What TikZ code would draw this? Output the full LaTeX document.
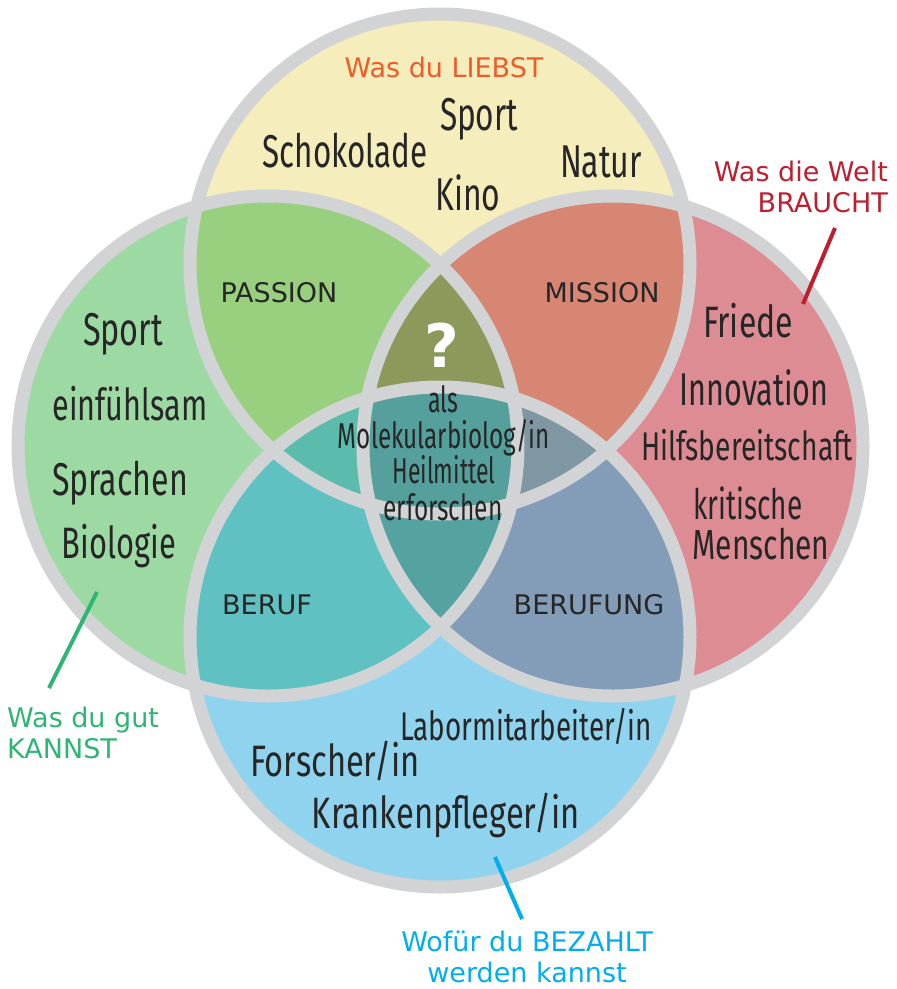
\documentclass[tikz,border=0pt]{standalone}
\usepackage{fontspec}
\setmainfont{DejaVu Sans}
\newfontfamily\hwfont{Fira Sans}
\newsavebox\hwbox
\newcommand\hww[3]{\sbox\hwbox{\fontsize{#1}{#1}\hwfont #3}\resizebox{#2pt}{\ht\hwbox}{\usebox\hwbox}}
\definecolor{ring}{HTML}{D1D3D4}
\definecolor{cT}{HTML}{F5EDBC}
\definecolor{cL}{HTML}{9DD9A3}
\definecolor{cR}{HTML}{DE8C94}
\definecolor{cB}{HTML}{8FD3EE}
\definecolor{cTL}{HTML}{98D07F}
\definecolor{cTR}{HTML}{D88674}
\definecolor{cLB}{HTML}{5FC1C1}
\definecolor{cRB}{HTML}{839DB8}
\definecolor{cTLR}{HTML}{8B9A5B}
\definecolor{cTLB}{HTML}{5BBCAE}
\definecolor{cTRB}{HTML}{7F97A3}
\definecolor{cLRB}{HTML}{55A3A0}
\definecolor{cAll}{HTML}{55A09D}
\definecolor{tOrange}{HTML}{F15A29}
\definecolor{tRed}{HTML}{BE1E2D}
\definecolor{tGreen}{HTML}{2DB673}
\definecolor{tBlue}{HTML}{00AEEF}
\tikzset{
  hw/.style={inner sep=0pt, anchor=base, text=black!85},
  lbl/.style={inner sep=0pt, anchor=base, font=\fontsize{27}{27}\selectfont, text=black!85},
  captext/.style={inner sep=0pt, font=\fontsize{27}{31}\selectfont},
  pointer/.style={line width=4pt},
  ringline/.style={draw=ring, line width=13pt}
}
\begin{document}
\begin{tikzpicture}[x=1pt,y=-1pt]
\useasboundingbox (0,0) rectangle (897,989);
\def\rr{250}
\coordinate (cTc) at (440,264);
\coordinate (cLc) at (268,446);
\coordinate (cRc) at (613,446);
\coordinate (cBc) at (440,637);
% base fills
\fill[cT] (cTc) circle (\rr);
\fill[cL] (cLc) circle (\rr);
\fill[cR] (cRc) circle (\rr);
\fill[cB] (cBc) circle (\rr);
% pairs
\begin{scope}\clip (cTc) circle (\rr); \fill[cTL] (cLc) circle (\rr); \end{scope}
\begin{scope}\clip (cTc) circle (\rr); \fill[cTR] (cRc) circle (\rr); \end{scope}
\begin{scope}\clip (cLc) circle (\rr); \fill[cLB] (cBc) circle (\rr); \end{scope}
\begin{scope}\clip (cRc) circle (\rr); \fill[cRB] (cBc) circle (\rr); \end{scope}
% triples
\begin{scope}\clip (cTc) circle (\rr); \clip (cLc) circle (\rr); \fill[cTLR] (cRc) circle (\rr); \end{scope}
\begin{scope}\clip (cTc) circle (\rr); \clip (cLc) circle (\rr); \fill[cTLB] (cBc) circle (\rr); \end{scope}
\begin{scope}\clip (cTc) circle (\rr); \clip (cRc) circle (\rr); \fill[cTRB] (cBc) circle (\rr); \end{scope}
\begin{scope}\clip (cLc) circle (\rr); \clip (cRc) circle (\rr); \fill[cLRB] (cBc) circle (\rr); \end{scope}
% all four
\begin{scope}\clip (cTc) circle (\rr); \clip (cLc) circle (\rr); \clip (cRc) circle (\rr); \fill[cAll] (cBc) circle (\rr); \end{scope}
% rings
\draw[ringline] (cTc) circle (\rr);
\draw[ringline] (cLc) circle (\rr);
\draw[ringline] (cRc) circle (\rr);
\draw[ringline] (cBc) circle (\rr);

% top circle words
\node[hw] (tSport) at (479,130) {\hww{46}{78}{Sport}};
\node[hw] (tSchoko) at (345,167) {\hww{46}{165}{Schokolade}};
\node[hw] (tNatur) at (601,177) {\hww{46}{82}{Natur}};
\node[hw] (tKino) at (468,210) {\hww{46}{65}{Kino}};
% left circle words
\node[hw] (lSport) at (123,345) {\hww{46}{80}{Sport}};
\node[hw] (lEin) at (130,420) {\hww{44}{155}{einfühlsam}};
\node[hw] (lSpr) at (120,495) {\hww{46}{136}{Sprachen}};
\node[hw] (lBio) at (119,558) {\hww{44}{114}{Biologie}};
% right circle words
\node[hw] (rFriede) at (748,337) {\hww{44}{90}{Friede}};
\node[hw] (rInno) at (754,405) {\hww{46}{149}{Innovation}};
\node[hw] (rHilf) at (747,460) {\hww{40}{212}{Hilfsbereitschaft}};
\node[hw] (rKrit) at (748,519) {\hww{42}{109}{kritische}};
\node[hw] (rMen) at (761,559) {\hww{42}{137}{Menschen}};
% bottom circle words
\node[hw] (bLabor) at (526,740) {\hww{40}{252}{Labormitarbeiter/in}};
\node[hw] (bForsch) at (335,776) {\hww{44}{170}{Forscher/in}};
\node[hw] (bKrank) at (446,828) {\hww{44}{268}{Krankenpfleger/in}};
% centre
\node[inner sep=0pt, anchor=base, text=white, font=\fontsize{60}{60}\bfseries\selectfont] (qm) at (442,367) {?};
\node[hw] (cAls) at (443,412) {\hww{36}{30}{als}};
\node[hw] (cMol) at (444,448) {\hww{36}{212}{Molekularbiolog/in}};
\node[hw] (cHeil) at (444,483) {\hww{36}{103}{Heilmittel}};
\node[hw] (cErf) at (443,520) {\hww{36}{119}{erforschen}};
% region labels
\node[lbl] (passion) at (279,302) {PASSION};
\node[lbl] (mission) at (602,302) {MISSION};
\node[lbl] (beruf) at (267,614) {BERUF};
\node[lbl] (berufung) at (589,614) {BERUFUNG};
% circle captions (base = baseline of last line)
\node[lbl, text=tOrange] (liebst) at (444,77) {Was du LIEBST};
\node[captext, text=tRed, anchor=base east, align=right] (welt) at (888,212) {Was die Welt\\BRAUCHT};
\node[captext, text=tGreen, anchor=base west, align=left] (kannst) at (7,758) {Was du gut\\KANNST};
\node[captext, text=tBlue, anchor=base, align=center] (bezahlt) at (527,982) {Wofür du BEZAHLT\\werden kannst};
% pointers
\coordinate (pRa) at (835,228); \coordinate (pRb) at (803,304);
\coordinate (pGa) at (97,592);  \coordinate (pGb) at (49,688);
\coordinate (pBa) at (495,857); \coordinate (pBb) at (522,919);
\draw[pointer, tRed] (pRa) -- (pRb);
\draw[pointer, tGreen] (pGa) -- (pGb);
\draw[pointer, tBlue] (pBa) -- (pBb);
\end{tikzpicture}
\end{document}
